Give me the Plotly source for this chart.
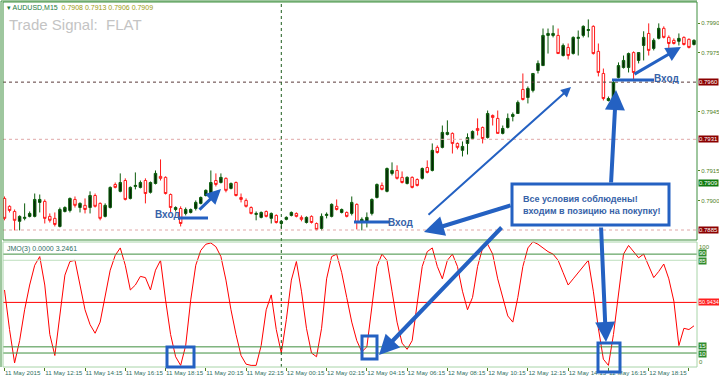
import plotly.graph_objects as go

# ---------------- data (AUDUSD M15, 11-12 May 2015) ----------------
opens = [0.79010,0.78970,0.78944,0.78894,0.78909,0.78919,0.78919,0.78990,0.78995,0.78919,
         0.78909,0.78868,0.78944,0.78949,0.79005,0.78964,0.78975,0.78964,0.79025,0.78985,
         0.78919,0.78964,0.79081,0.79046,0.79101,0.79010,0.79071,0.79066,0.79101,0.79041,
         0.79086,0.79122,0.79117,0.79030,0.78954,0.78959,0.78934,0.78939,0.78959,0.78985,
         0.79025,0.79035,0.79101,0.79091,0.79112,0.79061,0.79091,0.79015,0.79000,0.78964,
         0.78929,0.78914,0.78944,0.78909,0.78924,0.78883,0.78904,0.78924,0.78934,0.78914,
         0.78888,0.78919,0.78883,0.78858,0.78924,0.78919,0.78970,0.78939,0.78939,0.78934,
         0.78980,0.78894,0.78888,0.78934,0.79015,0.79076,0.79046,0.79137,0.79152,0.79117,
         0.79086,0.79117,0.79106,0.79112,0.79167,0.79152,0.79269,0.79269,0.79335,0.79340,
         0.79289,0.79254,0.79289,0.79314,0.79365,0.79370,0.79319,0.79431,0.79416,0.79340,
         0.79370,0.79426,0.79441,0.79563,0.79522,0.79558,0.79659,0.79684,0.79837,0.79837,
         0.79837,0.79735,0.79776,0.79745,0.79822,0.79837,0.79862,0.79883,0.79756,0.79644,
         0.79507,0.79507,0.79624,0.79674,0.79674,0.79750,0.79710,0.79786,0.79847,0.79771,
         0.79822,0.79873,0.79827,0.79812,0.79807,0.79827,0.79817,0.79791]
highs = [0.79020,0.78975,0.78954,0.78924,0.78985,0.78944,0.79035,0.79030,0.79005,0.78934,
         0.78939,0.78964,0.78970,0.79015,0.79020,0.78990,0.79010,0.79046,0.79035,0.78990,
         0.78985,0.79071,0.79091,0.79137,0.79112,0.79071,0.79142,0.79101,0.79112,0.79096,
         0.79152,0.79208,0.79122,0.79035,0.78970,0.78970,0.78964,0.78959,0.79000,0.79020,
         0.79056,0.79152,0.79137,0.79137,0.79117,0.79091,0.79096,0.79035,0.79010,0.78970,
         0.78944,0.78944,0.78949,0.78939,0.78929,0.78899,0.78919,0.78944,0.78939,0.78924,
         0.78919,0.78924,0.78888,0.78934,0.78939,0.78985,0.79005,0.78959,0.78944,0.79020,
         0.78985,0.78914,0.78939,0.79010,0.79086,0.79091,0.79167,0.79193,0.79178,0.79147,
         0.79122,0.79122,0.79112,0.79167,0.79203,0.79289,0.79279,0.79380,0.79406,0.79345,
         0.79294,0.79299,0.79340,0.79355,0.79416,0.79375,0.79456,0.79436,0.79456,0.79380,
         0.79441,0.79446,0.79507,0.79644,0.79578,0.79644,0.79710,0.79872,0.79872,0.79888,
         0.79872,0.79796,0.79796,0.79832,0.79862,0.79888,0.79918,0.79888,0.79796,0.79669,
         0.79527,0.79608,0.79700,0.79735,0.79750,0.79756,0.79750,0.79858,0.79898,0.79822,
         0.79898,0.79883,0.79837,0.79822,0.79847,0.79832,0.79822,0.79817]
lows = [0.78899,0.78939,0.78848,0.78848,0.78899,0.78914,0.78914,0.78939,0.78883,0.78888,
        0.78868,0.78863,0.78939,0.78939,0.78964,0.78939,0.78934,0.78934,0.78964,0.78899,
        0.78914,0.78959,0.79061,0.79041,0.79000,0.79005,0.79056,0.79061,0.78985,0.79035,
        0.79081,0.79101,0.79030,0.78939,0.78944,0.78868,0.78924,0.78934,0.78949,0.78980,
        0.79020,0.79030,0.79071,0.79086,0.79041,0.79056,0.79020,0.78990,0.78964,0.78929,
        0.78899,0.78909,0.78914,0.78883,0.78883,0.78858,0.78899,0.78919,0.78914,0.78894,
        0.78883,0.78883,0.78848,0.78848,0.78909,0.78914,0.78949,0.78934,0.78914,0.78924,
        0.78853,0.78848,0.78863,0.78924,0.79010,0.79051,0.79041,0.79127,0.79106,0.79086,
        0.79081,0.79061,0.79071,0.79106,0.79137,0.79147,0.79238,0.79264,0.79330,0.79238,
        0.79259,0.79223,0.79233,0.79309,0.79330,0.79289,0.79314,0.79380,0.79340,0.79335,
        0.79365,0.79401,0.79441,0.79507,0.79492,0.79548,0.79644,0.79684,0.79745,0.79827,
        0.79745,0.79730,0.79715,0.79740,0.79735,0.79827,0.79827,0.79740,0.79629,0.79507,
        0.79502,0.79492,0.79619,0.79669,0.79649,0.79613,0.79695,0.79710,0.79735,0.79761,
        0.79817,0.79822,0.79771,0.79791,0.79786,0.79786,0.79771,0.79786]
closes = [0.78909,0.78949,0.78899,0.78919,0.78914,0.78934,0.79005,0.79005,0.78909,0.78899,
          0.78878,0.78954,0.78964,0.79010,0.78975,0.78985,0.78954,0.79025,0.78970,0.78909,
          0.78975,0.79066,0.79066,0.79091,0.79005,0.79066,0.79076,0.79091,0.79035,0.79091,
          0.79137,0.79112,0.79035,0.78964,0.78964,0.78883,0.78954,0.78954,0.78990,0.79015,
          0.79051,0.79091,0.79081,0.79117,0.79051,0.79086,0.79025,0.79005,0.78970,0.78934,
          0.78934,0.78939,0.78919,0.78934,0.78888,0.78894,0.78914,0.78939,0.78919,0.78904,
          0.78914,0.78888,0.78853,0.78919,0.78929,0.78980,0.78954,0.78954,0.78919,0.78990,
          0.78888,0.78904,0.78914,0.79005,0.79081,0.79056,0.79162,0.79152,0.79112,0.79091,
          0.79117,0.79066,0.79076,0.79162,0.79142,0.79254,0.79243,0.79345,0.79345,0.79289,
          0.79269,0.79274,0.79319,0.79350,0.79355,0.79314,0.79441,0.79421,0.79340,0.79365,
          0.79416,0.79436,0.79497,0.79512,0.79568,0.79644,0.79695,0.79837,0.79847,0.79847,
          0.79745,0.79786,0.79735,0.79827,0.79827,0.79883,0.79867,0.79745,0.79649,0.79517,
          0.79517,0.79598,0.79684,0.79710,0.79745,0.79649,0.79750,0.79827,0.79761,0.79812,
          0.79873,0.79827,0.79796,0.79796,0.79822,0.79791,0.79776,0.79812]
jmo = [61,29,2,20,45,65,81,88,65,25,
       8,41,73,84,85,65,45,33,26,35,
       57,77,89,95,81,61,65,72,71,61,
       77,85,53,25,7,0,16,53,81,93,
       98,99,96,88,69,45,25,8,1,0,
       0,16,45,57,29,10,37,69,84,60,
       30,10,7,30,70,88,90,75,55,35,
       20,11,15,50,80,90,85,60,35,18,
       13,20,50,80,92,95,80,70,85,90,
       80,60,45,55,80,95,98,90,70,55,
       40,35,55,80,95,100,98,95,92,90,
       85,75,65,70,75,80,85,60,30,5,
       0,25,60,90,97,92,87,90,80,71,
       76,82,70,52,16,30,29,32]

tick_pos = [0, 8, 16, 24, 32, 40, 48, 56, 64, 72, 80, 88, 96, 104, 112, 120, 128, 136]
tick_labels = ["11 May 2015", "11 May 12:15", "11 May 14:15", "11 May 16:15", "11 May 18:15",
               "11 May 20:15", "11 May 22:15", "12 May 00:15", "12 May 02:15", "12 May 04:15",
               "12 May 06:15", "12 May 08:15", "12 May 10:15", "12 May 12:15", "12 May 14:15",
               "12 May 16:15", "12 May 18:15", "12 May 20:15"]
day_separator = 55

price_ticks = [0.7990, 0.7975, 0.7945, 0.7915, 0.7900]
price_dark_levels = [0.7960]
price_pink_levels = [0.7931, 0.7885]
price_red_labels = [0.7960, 0.7931, 0.7885]
price_bid = 0.7909
header_ohlc = [0.7908, 0.7913, 0.7906, 0.7909]
jmo_header = [0.0000, 3.2461]
jmo_green_levels = [90, 85, 15, 10]
jmo_mid = 50.9434

x = list(range(len(opens)))

# ---------------- geometry helpers (pixel -> paper) ----------------
W, H = 719, 378
ML, MR, MT, MB = 3, 22, 2, 11
PW, PH = W - ML - MR, H - MT - MB


def PX(xp):
    return (xp - ML) / PW


def PY(yp):
    return (H - MB - yp) / PH


BLUE = "#2461c2"
TXTBLUE = "#3762a8"
GREEN_BORDER = "#3f8f3f"
AXIS_TXT = "#4f7f1f"
SMALL = 6

fig = go.Figure()
fig.add_trace(go.Candlestick(
    x=x, open=opens, high=highs, low=lows, close=closes,
    increasing=dict(line=dict(color="#0c5c0c", width=1), fillcolor="#062606"),
    decreasing=dict(line=dict(color="#ff1a1a", width=1), fillcolor="#ffffff"),
    whiskerwidth=0, xaxis="x", yaxis="y", hoverinfo="skip"))
fig.add_trace(go.Scatter(x=x, y=jmo, mode="lines", line=dict(color="#ff0000", width=1),
                         xaxis="x", yaxis="y2", hoverinfo="skip"))

shapes = []
annos = []

for lv in price_dark_levels:
    shapes.append(dict(type="line", xref="paper", yref="y", x0=0, x1=1, y0=lv, y1=lv,
                       line=dict(color="#5a3a3a", width=1, dash="dot")))
for lv in price_pink_levels:
    shapes.append(dict(type="line", xref="paper", yref="y", x0=0, x1=1, y0=lv, y1=lv,
                       line=dict(color="#e0a8a8", width=1, dash="dot")))
for lv in jmo_green_levels:
    col = "#bfe0bf" if lv == 85 else "#3f8f3f"
    shapes.append(dict(type="line", xref="paper", yref="y2", x0=0, x1=1, y0=lv, y1=lv,
                       line=dict(color=col, width=1)))
shapes.append(dict(type="line", xref="paper", yref="y2", x0=0, x1=1, y0=jmo_mid, y1=jmo_mid,
                   line=dict(color="#ff0000", width=1)))
shapes.append(dict(type="line", xref="x", yref="paper", x0=day_separator, x1=day_separator,
                   y0=0, y1=1, line=dict(color="#1d5d1d", width=1, dash="dot")))
shapes.append(dict(type="rect", xref="paper", yref="paper", x0=0, x1=1, y0=PY(240), y1=1,
                   line=dict(color=GREEN_BORDER, width=1)))
shapes.append(dict(type="rect", xref="paper", yref="paper", x0=0, x1=1, y0=0, y1=PY(242),
                   line=dict(color="#a8d4a8", width=1)))
shapes.append(dict(type="line", xref="paper", yref="paper", x0=PX(1), x1=PX(1), y0=0, y1=PY(1),
                   line=dict(color=GREEN_BORDER, width=1)))
shapes.append(dict(type="line", xref="paper", yref="paper", x0=PX(1), x1=1, y0=PY(1), y1=PY(1),
                   line=dict(color=GREEN_BORDER, width=1)))


def rect(x0, y0, x1, y1, fill=None):
    d = dict(type="rect", xref="paper", yref="paper", x0=PX(x0), x1=PX(x1), y0=PY(y1), y1=PY(y0),
             line=dict(color=BLUE, width=3))
    if fill:
        d["fillcolor"] = fill
    shapes.append(d)


def hline(x0, x1, y):
    shapes.append(dict(type="line", xref="paper", yref="paper", x0=PX(x0), x1=PX(x1), y0=PY(y), y1=PY(y),
                       line=dict(color=BLUE, width=3)))


def arrow(tx, ty, hx, hy, w=3):
    annos.append(dict(xref="paper", yref="paper", x=PX(hx), y=PY(hy), ax=tx - hx, ay=ty - hy,
                      axref="pixel", ayref="pixel", text="", showarrow=True, arrowhead=2,
                      arrowsize=1, arrowwidth=w, arrowcolor=BLUE))


def label(xp, yp, txt, size=10):
    annos.append(dict(xref="paper", yref="paper", x=PX(xp), y=PY(yp), text="<b>" + txt + "</b>",
                      showarrow=False, xanchor="center", yanchor="middle",
                      font=dict(family="Liberation Sans", size=size, color=TXTBLUE)))


rect(512, 184, 669, 225, fill="white")
rect(167, 347, 194, 367)
rect(362, 336, 377, 359)
rect(598, 343, 620, 372)
hline(178, 208, 218)
hline(354, 390, 222)
hline(612, 654, 80)

arrow(198, 211, 221, 189, 3)
arrow(427, 216, 571, 87, 2)
arrow(512, 205, 424, 232, 4)
arrow(503, 226, 379, 355, 4)
arrow(611, 184, 616, 90, 4)
arrow(601, 226, 606, 342, 4)
arrow(633, 75, 681, 47, 3)

label(167, 215, "Вход")
label(401, 222, "Вход")
label(666, 78, "Вход")
annos.append(dict(xref="paper", yref="paper", x=PX(521), y=PY(204.5),
                  text="<b>Все условия соблюдены!<br>входим в позицию на покупку!</b>",
                  showarrow=False, xanchor="left", yanchor="middle", align="left",
                  font=dict(family="Liberation Sans", size=9, color=TXTBLUE)))

annos.append(dict(xref="paper", yref="paper", x=PX(5), y=PY(7), xanchor="left", yanchor="middle",
                  showarrow=False,
                  text='<span style="color:#1e7a3c">▾ AUDUSD,M15</span>  <span style="color:#9a9a10">'
                       + " ".join(f"{v:.4f}" for v in header_ohlc) + "</span>",
                  font=dict(family="Liberation Sans", size=7)))
annos.append(dict(xref="paper", yref="paper", x=PX(7), y=PY(24.5), xanchor="left", yanchor="middle",
                  showarrow=False, text="Trade Signal:  FLAT",
                  font=dict(family="Liberation Sans", size=15, color="#c4c4c4")))
annos.append(dict(xref="paper", yref="paper", x=PX(5), y=PY(249), xanchor="left", yanchor="middle",
                  showarrow=False, text="JMO(3) " + " ".join(f"{v:.4f}" for v in jmo_header),
                  font=dict(family="Liberation Sans", size=7, color="#2f6f5f")))


def side_label(yref, yv, txt, bg, fg="white", yshift=0, size=SMALL):
    annos.append(dict(xref="paper", yref=yref, x=1, y=yv, xanchor="left", yanchor="middle",
                      xshift=1, yshift=yshift, showarrow=False, text=txt, bgcolor=bg, borderpad=0,
                      font=dict(family="Liberation Sans", size=size, color=fg)))


for lv in price_red_labels:
    side_label("y", lv, f"{lv:.4f}", "#8b0000")
side_label("y", price_bid, f"{price_bid:.4f}", "#0e7a0e")
side_label("y2", 100, "100", None, AXIS_TXT, yshift=-5)
side_label("y2", 0, "0", None, AXIS_TXT, yshift=3)
for lv, sh in zip(jmo_green_levels, [1, -1, 1, -1]):
    side_label("y2", lv, str(lv), "#2e8b2e", yshift=sh)
side_label("y2", jmo_mid, f"{jmo_mid:.4f}", "#ff2020", size=5.5)

dom_split_top = PY(239.5)
dom_split_bot = PY(241.5)

fig.update_layout(
    width=W, height=H, margin=dict(l=ML, r=MR, t=MT, b=MB, autoexpand=False),
    paper_bgcolor="white", plot_bgcolor="white", showlegend=False,
    font=dict(family="Liberation Sans", size=SMALL, color=AXIS_TXT),
    xaxis=dict(range=[-0.3, 137.6], anchor="y2", rangeslider=dict(visible=False),
               tickvals=tick_pos, ticktext=tick_labels, ticks="outside", ticklen=3,
               tickcolor=AXIS_TXT, ticklabelposition="outside right", tickangle=0,
               automargin=False, showgrid=False,
               zeroline=False, showline=False, tickfont=dict(size=6.2, color="#2f7060")),
    yaxis=dict(domain=[dom_split_top, 1], range=[0.788018, 0.800065], side="right",
               tickvals=price_ticks, ticktext=[f"{v:.4f}" for v in price_ticks], automargin=False,
               ticks="outside", ticklen=2, tickcolor=AXIS_TXT, showgrid=False, zeroline=False,
               tickfont=dict(size=SMALL, color=AXIS_TXT)),
    yaxis2=dict(domain=[0, dom_split_bot], range=[-1.3, 100.2], side="right", anchor="x",
                automargin=False, showticklabels=False, ticks="", showgrid=False, zeroline=False),
    shapes=shapes, annotations=annos,
)

fig.write_html("out.html")
